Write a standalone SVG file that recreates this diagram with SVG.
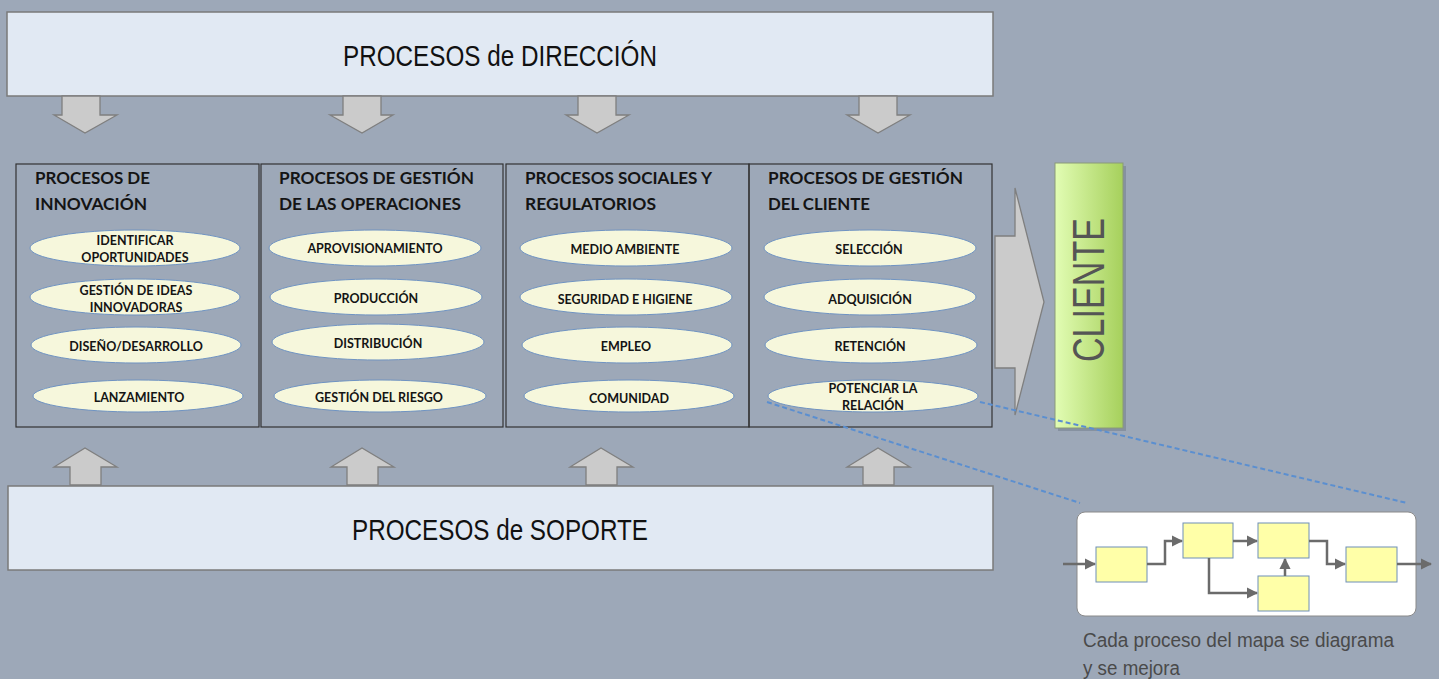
<svg xmlns="http://www.w3.org/2000/svg" width="1439" height="679" viewBox="0 0 1439 679">
<defs>
<linearGradient id="gClient" x1="0" y1="0" x2="1" y2="0">
<stop offset="0" stop-color="#e2fdb4"/>
<stop offset="1" stop-color="#a6d05c"/>
</linearGradient>
<style>
.band{fill:#e1e9f3;stroke:#7a7a7a;stroke-width:1.5}
.bandtxt{font-family:"Liberation Sans",Arial,sans-serif;font-size:29px;fill:#111;text-anchor:middle}
.col{fill:none;stroke:#333;stroke-width:1.2}
.head{font-family:Lato,"Liberation Sans",sans-serif;font-weight:bold;font-size:17px;fill:#141414}
.ell{fill:#f6f7dc;stroke:#6f93c2;stroke-width:1}
.lbl{font-family:Lato,"Liberation Sans",sans-serif;font-weight:bold;font-size:12.5px;fill:#141414;text-anchor:middle}
.blk{fill:#cbcbcb;stroke:#7f7f7f;stroke-width:1.3;stroke-linejoin:miter}
.dash{stroke:#5b8fd0;stroke-width:2;stroke-dasharray:5 3;fill:none}
.mini{fill:#ffffa8;stroke:#6e8fb8;stroke-width:1}
.flow{fill:none;stroke:#6b6b6b;stroke-width:2.5}
.cap{font-family:"Liberation Sans",Arial,sans-serif;font-size:20px;fill:#4a4a4a}
</style>
<marker id="ah" viewBox="0 0 10 10" refX="9" refY="5" markerWidth="4.5" markerHeight="4.5" orient="auto" markerUnits="strokeWidth">
<path d="M0,0 L10,5 L0,10 z" fill="#6b6b6b"/>
</marker>
</defs>
<rect x="0" y="0" width="1439" height="679" fill="#9da8b8"/>

<g id="direccion">
<rect class="band" x="7" y="12" width="986" height="84"/>
<text class="bandtxt" x="500" y="66" textLength="314" lengthAdjust="spacingAndGlyphs">PROCESOS de DIRECCIÓN</text>
</g>

<g id="soporte">
<rect class="band" x="8" y="486" width="985" height="84"/>
<text class="bandtxt" x="500" y="540" textLength="296" lengthAdjust="spacingAndGlyphs">PROCESOS de SOPORTE</text>
</g>

<g id="innovacion">
<rect class="col" x="16" y="164" width="243" height="263"/>
<text class="head" x="35" y="184" textLength="115" lengthAdjust="spacingAndGlyphs">PROCESOS DE</text>
<text class="head" x="35" y="210" textLength="112" lengthAdjust="spacingAndGlyphs">INNOVACIÓN</text>
<ellipse class="ell" cx="135" cy="248" rx="105" ry="18"/>
<text class="lbl" x="135" y="245">IDENTIFICAR</text>
<text class="lbl" x="135" y="262">OPORTUNIDADES</text>
<ellipse class="ell" cx="135" cy="297" rx="105" ry="18"/>
<text class="lbl" x="136" y="295">GESTIÓN DE IDEAS</text>
<text class="lbl" x="136" y="312">INNOVADORAS</text>
<ellipse class="ell" cx="136" cy="345" rx="105" ry="18"/>
<text class="lbl" x="136" y="351">DISEÑO/DESARROLLO</text>
<ellipse class="ell" cx="138" cy="396" rx="105" ry="16"/>
<text class="lbl" x="139" y="402">LANZAMIENTO</text>
</g>

<g id="operaciones">
<rect class="col" x="261" y="164" width="242" height="263"/>
<text class="head" x="279" y="184" textLength="195" lengthAdjust="spacingAndGlyphs">PROCESOS DE GESTIÓN</text>
<text class="head" x="279" y="210" textLength="182" lengthAdjust="spacingAndGlyphs">DE LAS OPERACIONES</text>
<ellipse class="ell" cx="375" cy="248" rx="106" ry="18"/>
<text class="lbl" x="375" y="253">APROVISIONAMIENTO</text>
<ellipse class="ell" cx="376" cy="297" rx="106" ry="18"/>
<text class="lbl" x="376" y="303">PRODUCCIÓN</text>
<ellipse class="ell" cx="378" cy="342" rx="106" ry="18"/>
<text class="lbl" x="378" y="348">DISTRIBUCIÓN</text>
<ellipse class="ell" cx="380" cy="396" rx="106" ry="16"/>
<text class="lbl" x="379" y="402">GESTIÓN DEL RIESGO</text>
</g>

<g id="sociales">
<rect class="col" x="506" y="164" width="243" height="263"/>
<text class="head" x="525" y="184" textLength="187" lengthAdjust="spacingAndGlyphs">PROCESOS SOCIALES Y</text>
<text class="head" x="525" y="210" textLength="131" lengthAdjust="spacingAndGlyphs">REGULATORIOS</text>
<ellipse class="ell" cx="626" cy="248" rx="106" ry="18"/>
<text class="lbl" x="625" y="254">MEDIO AMBIENTE</text>
<ellipse class="ell" cx="626" cy="297" rx="106" ry="18"/>
<text class="lbl" x="625" y="304">SEGURIDAD E HIGIENE</text>
<ellipse class="ell" cx="627" cy="345" rx="105" ry="18"/>
<text class="lbl" x="626" y="351">EMPLEO</text>
<ellipse class="ell" cx="629" cy="396" rx="105" ry="16"/>
<text class="lbl" x="629" y="403">COMUNIDAD</text>
</g>

<g id="cliente-procesos">
<rect class="col" x="749" y="164" width="243" height="263"/>
<text class="head" x="768" y="184" textLength="195" lengthAdjust="spacingAndGlyphs">PROCESOS DE GESTIÓN</text>
<text class="head" x="768" y="210" textLength="102" lengthAdjust="spacingAndGlyphs">DEL CLIENTE</text>
<ellipse class="ell" cx="870" cy="248" rx="106" ry="18"/>
<text class="lbl" x="869" y="254">SELECCIÓN</text>
<ellipse class="ell" cx="870" cy="297" rx="106" ry="18"/>
<text class="lbl" x="870" y="304">ADQUISICIÓN</text>
<ellipse class="ell" cx="871" cy="345" rx="106" ry="18"/>
<text class="lbl" x="870" y="351">RETENCIÓN</text>
<ellipse class="ell" cx="873" cy="396" rx="105" ry="16"/>
<text class="lbl" x="873" y="393">POTENCIAR LA</text>
<text class="lbl" x="873" y="410">RELACIÓN</text>
</g>

<g id="cliente">
<rect x="1058" y="166" width="68" height="265" fill="#6f7a88" opacity="0.5"/>
<rect x="1055" y="163" width="68" height="265" fill="url(#gClient)" stroke="#8a9a78" stroke-width="1"/>
<text x="0" y="0" transform="translate(1104,290) rotate(-90)" font-family="'Liberation Sans',Arial,sans-serif" font-size="44" fill="#555" text-anchor="middle" textLength="144" lengthAdjust="spacingAndGlyphs">CLIENTE</text>
</g>

<g id="connectors">
<path class="blk" d="M62,96 H100 V115 H117 L85,133 L54,115 H62 Z"/>
<path class="blk" d="M343,96 H381 V115 H393 L362,133 L330,115 H343 Z"/>
<path class="blk" d="M578,96 H616 V115 H629 L597,133 L566,115 H578 Z"/>
<path class="blk" d="M859,96 H897 V115 H910 L878,133 L847,115 H859 Z"/>
<path class="blk" d="M70,485 V467 H54 L85,448 L117,467 H101 V485 Z"/>
<path class="blk" d="M347,485 V467 H331 L362,448 L394,467 H378 V485 Z"/>
<path class="blk" d="M586,485 V467 H570 L601,448 L633,467 H617 V485 Z"/>
<path class="blk" d="M863,485 V467 H847 L878,448 L910,467 H894 V485 Z"/>
<path class="blk" d="M995,236 H1015 V188 L1044,302 L1015,415 V368 H995 Z"/>
<line class="dash" x1="767" y1="402" x2="1080" y2="503"/>
<line class="dash" x1="980" y1="402" x2="1407" y2="503"/>
</g>

<g id="inset">
<rect x="1077" y="512" width="339" height="104" rx="8" fill="#fff" stroke="#8a8a8a" stroke-width="1"/>
<rect class="mini" x="1096" y="547" width="51" height="35"/>
<rect class="mini" x="1183" y="523" width="50" height="35"/>
<rect class="mini" x="1258" y="523" width="51" height="35"/>
<rect class="mini" x="1258" y="576" width="51" height="35"/>
<rect class="mini" x="1346" y="547" width="51" height="35"/>
<g id="inset-connectors">
<path class="flow" marker-end="url(#ah)" d="M1063,564 H1095"/>
<path class="flow" marker-end="url(#ah)" d="M1147,564 H1165 V541 H1182"/>
<path class="flow" marker-end="url(#ah)" d="M1233,541 H1257"/>
<path class="flow" marker-end="url(#ah)" d="M1309,541 H1327 V564 H1345"/>
<path class="flow" marker-end="url(#ah)" d="M1397,564 H1431"/>
<path class="flow" marker-end="url(#ah)" d="M1209,558 V593 H1257"/>
<path class="flow" marker-end="url(#ah)" d="M1285,576 V559"/>
</g>
<text class="cap" x="1083" y="647" textLength="311" lengthAdjust="spacingAndGlyphs">Cada proceso del mapa se diagrama</text>
<text class="cap" x="1083" y="675" textLength="97" lengthAdjust="spacingAndGlyphs">y se mejora</text>
</g>
</svg>
